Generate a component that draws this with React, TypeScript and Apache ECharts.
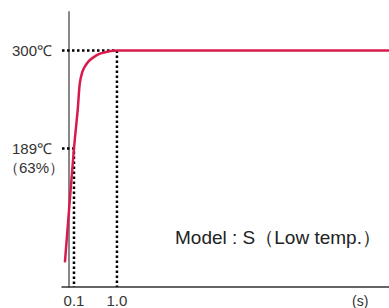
import React, { useEffect, useRef } from "react";
import * as echarts from "echarts";

const curveX = [-0.09, 0.1, 0.18, 0.22, 0.27, 0.33, 0.41, 0.5, 0.62, 0.75, 0.87, 1.0, 6.7];
const curveY = [60, 189, 234, 262, 275, 282, 288, 292, 296, 298, 299.4, 300, 300];
const xTicks = [0.1, 1.0];
const yTicks = [189, 300];
const xTickLabels = ["0.1", "1.0"];
const yTickLabels = ["189℃", "300℃"];
const X_MIN = -0.151;
const X_MAX = 6.7;
const Y_MIN = 32;
const Y_MAX = 343.7;
const FONT = "Liberation Sans, Arial, sans-serif";

export default function App() {
  const ref = useRef<HTMLDivElement>(null);
  useEffect(() => {
    if (!ref.current) return;
    const chart = echarts.init(ref.current, null, { renderer: "svg" });
    const guide = (pts: number[][]) => ({
      type: "line",
      data: pts,
      symbol: "none",
      silent: true,
      z: 2,
      lineStyle: { color: "#000", width: 2.5, type: [2.5, 2.5] },
    });
    chart.setOption({
      animation: false,
      grid: { left: 62, right: 0, top: 12, bottom: 18 },
      xAxis: {
        type: "value",
        min: X_MIN,
        max: X_MAX,
        splitLine: { show: false },
        axisLine: { show: true, lineStyle: { color: "#333", width: 1.5 } },
        axisTick: { show: false },
        axisLabel: {
          customValues: xTicks,
          formatter: (v: number) => xTickLabels[xTicks.findIndex((t) => Math.abs(t - v) < 1e-6)] ?? "",
          color: "#333",
          fontSize: 15,
          fontFamily: FONT,
          margin: 6,
        },
      },
      yAxis: {
        type: "value",
        min: Y_MIN,
        max: Y_MAX,
        splitLine: { show: false },
        axisLine: { show: true, lineStyle: { color: "#888", width: 2 } },
        axisTick: { show: false },
        axisLabel: {
          customValues: yTicks,
          formatter: (v: number) => yTickLabels[yTicks.findIndex((t) => Math.abs(t - v) < 1e-6)] ?? "",
          color: "#333",
          fontSize: 15,
          fontFamily: FONT,
          margin: 10,
        },
      },
      series: [
        guide([[X_MIN, yTicks[1]], [xTicks[1], yTicks[1]], [xTicks[1], Y_MIN]]),
        guide([[X_MIN, yTicks[0]], [xTicks[0], yTicks[0]], [xTicks[0], Y_MIN]]),
        {
          type: "line",
          data: curveX.map((x, i) => [x, curveY[i]]),
          smooth: 0.3,
          symbol: "none",
          lineStyle: { color: "#d81b4c", width: 2.5 },
          z: 3,
        },
      ],
      graphic: [
        {
          type: "text",
          left: 4,
          top: 160,
          style: { text: "（63%）", font: `15px ${FONT}`, fill: "#333" },
        },
        {
          type: "text",
          left: 175,
          top: 228,
          style: { text: "Model : S（Low temp.）", font: `19px ${FONT}`, fill: "#222" },
        },
        {
          type: "text",
          left: 352,
          top: 294,
          style: { text: "(s)", font: `14px ${FONT}`, fill: "#333" },
        },
      ],
    });
    return () => chart.dispose();
  }, []);
  return <div ref={ref} style={{ width: 389, height: 308, position: "absolute", left: 0, top: 0 }} />;
}
